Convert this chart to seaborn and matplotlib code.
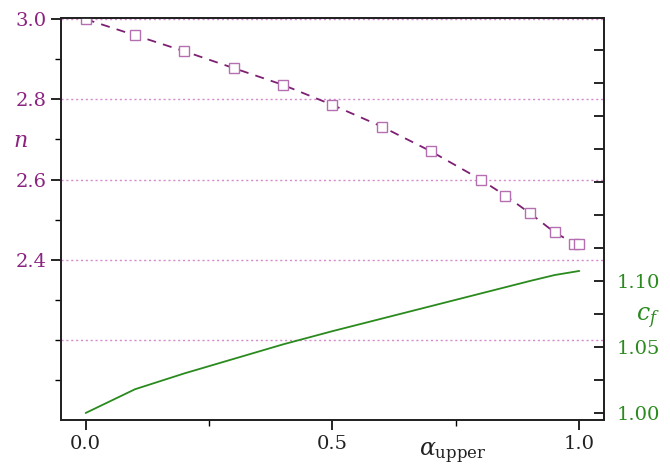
import matplotlib
matplotlib.use("Agg")
import matplotlib.pyplot as plt
from matplotlib.ticker import FixedLocator, FixedFormatter
import seaborn as sns
import pandas as pd

alpha_upper = [0.0, 0.1, 0.2, 0.3, 0.4, 0.5, 0.6, 0.7, 0.8, 0.85, 0.9, 0.95, 0.99, 1.0]
n_values = [3.000, 2.960, 2.920, 2.878, 2.836, 2.786, 2.732, 2.670, 2.600, 2.560, 2.516, 2.468, 2.440, 2.440]

cf_alpha = [0.0, 0.1, 0.2, 0.3, 0.4, 0.5, 0.6, 0.7, 0.8, 0.9, 0.95, 1.0]
cf_values = [1.000, 1.018, 1.030, 1.041, 1.052, 1.062, 1.0715, 1.081, 1.0905, 1.100, 1.1045, 1.1076]

n_ticks = [2.4, 2.6, 2.8, 3.0]
n_grid = [2.2, 2.4, 2.6, 2.8, 3.0]
cf_ticks = [1.00, 1.05, 1.10]
x_ticks = [0.0, 0.5, 1.0]

purple = "#8B2381"
purple_light = "#B46FB0"
green = "#2A8A1E"
grid_col = "#D48BCB"

sns.set_style("white")
plt.rcParams["font.family"] = ["DejaVu Serif"]
plt.rcParams["mathtext.fontset"] = "dejavuserif"

fig = plt.figure(figsize=(6.7, 4.69), dpi=100)
ax = fig.add_axes([0.091, 0.1045, 0.8105, 0.8571])
ax2 = ax.twinx()

df_n = pd.DataFrame({"a": alpha_upper, "n": n_values})
df_c = pd.DataFrame({"a": cf_alpha, "cf": cf_values})

for g in n_grid:
    ax.axhline(g, color=grid_col, lw=1.0, ls=(0, (1.5, 2.0)), zorder=0)

sns.lineplot(data=df_n, x="a", y="n", ax=ax, color="#7D1F72", lw=1.3,
             dashes=False, linestyle=(0, (5, 4)), marker="s", markersize=6.5,
             markerfacecolor="white", markeredgecolor=purple_light,
             markeredgewidth=1.0, zorder=3)
sns.lineplot(data=df_c, x="a", y="cf", ax=ax2, color=green, lw=1.3, zorder=3)

ax.set_xlim(-0.05, 1.05)
ax.set_ylim(2.0, 3.003)
ax2.set_ylim(0.9947, 1.2992)

ax.xaxis.set_major_locator(FixedLocator(x_ticks))
ax.xaxis.set_major_formatter(FixedFormatter([f"{v:.1f}" for v in x_ticks]))
ax.xaxis.set_minor_locator(FixedLocator([0.25, 0.75]))

ax.yaxis.set_major_locator(FixedLocator(n_ticks))
ax.yaxis.set_major_formatter(FixedFormatter([f"{v:.1f}" for v in n_ticks]))
ax.yaxis.set_minor_locator(FixedLocator([2.1, 2.2, 2.3, 2.5, 2.7, 2.9]))

ax2.yaxis.set_major_locator(FixedLocator(cf_ticks))
ax2.yaxis.set_major_formatter(FixedFormatter([f"{v:.2f}" for v in cf_ticks]))
ax2.yaxis.set_minor_locator(FixedLocator([1.025, 1.075, 1.125, 1.15, 1.175, 1.2, 1.225, 1.25, 1.275]))

ax.tick_params(axis="x", which="major", direction="out", length=7, width=1.2,
               color="black", labelsize=14, labelcolor="#222222", pad=4, bottom=True)
ax.tick_params(axis="x", which="minor", direction="out", length=4, width=1.0,
               color="black", bottom=True)
ax.tick_params(axis="y", which="major", direction="out", length=7, width=1.2,
               color="black", labelsize=14, labelcolor=purple, pad=3, left=True)
ax.tick_params(axis="y", which="minor", direction="out", length=4, width=1.0,
               color="black", left=True)
ax2.tick_params(axis="y", which="major", direction="in", length=7, width=1.2,
                color="black", labelsize=14, labelcolor=green, pad=9, right=True)
ax2.tick_params(axis="y", which="minor", direction="in", length=7, width=1.2,
                color="black", right=True)

for a in (ax, ax2):
    for s in a.spines.values():
        s.set_visible(True)
        s.set_color("#222222")
        s.set_linewidth(1.3)

ax.set_xlabel("")
ax.set_ylabel("")
ax2.set_ylabel("")

fig.text(20 / 670, 1 - 141 / 469, "$n$", color=purple, fontsize=16,
         ha="center", va="center")
fig.text(648 / 670, 1 - 318 / 469, "$c_f$", color=green, fontsize=17,
         ha="center", va="center")
fig.text(453 / 670, 1 - 453 / 469, r"$\alpha_{\mathrm{upper}}$", color="#222222",
         fontsize=17, ha="center", va="center")

fig.savefig("out.png", dpi=100)
